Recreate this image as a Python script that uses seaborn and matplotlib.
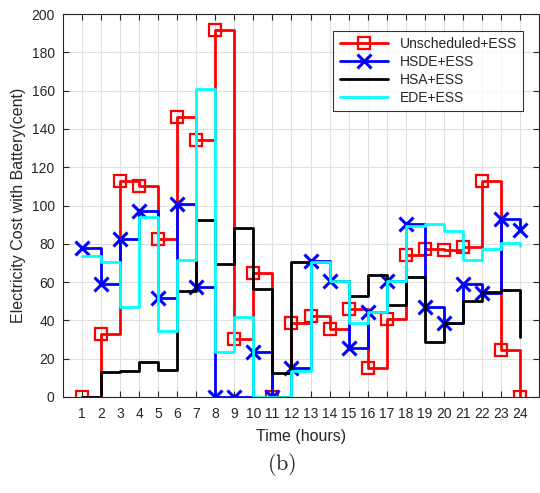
import matplotlib
matplotlib.use('Agg')
import matplotlib.pyplot as plt
import numpy as np
import seaborn as sns

hours = np.arange(1, 25)
unscheduled = [0, 32.7, 112.8, 110.3, 82.5, 146.2, 134, 191.8, 30.1, 64.9, 0, 38.5,
               42.3, 35.7, 45.8, 15.3, 40.7, 74.2, 77.1, 76.8, 78.5, 112.8, 24.5, 0]
hsde = [78, 58.8, 82.5, 97.3, 51.9, 100.6, 57.6, 0, 0, 23.3, 0, 15,
        71, 60.6, 25.7, 44.5, 60.7, 90.2, 47.2, 38.5, 58.8, 54.1, 92.9, 87.2]
hsa = [0, 12.9, 13.6, 18.1, 13.9, 55.4, 92.4, 69.3, 88.4, 56.2, 12.4, 70.7,
       70.7, 60.6, 52.7, 63.7, 48, 62.5, 28.5, 38.5, 50.1, 55, 55.9, 31.5]
ede = [73.8, 70.7, 47.2, 93.8, 34.6, 71.3, 160.8, 23.7, 41.9, 0, 0, 13.6,
       70.7, 60.6, 38.8, 44.2, 60.6, 89.5, 90.6, 86.7, 71.5, 77.3, 80.2, 79]

sns.set_style('ticks')
plt.rcParams['font.family'] = ['Liberation Sans', 'DejaVu Sans']
plt.rcParams['mathtext.fontset'] = 'cm'

fig = plt.figure(figsize=(5.4, 4.93), dpi=100)
ax = fig.add_axes([63 / 540, 1 - 397 / 493, 476 / 540, 383 / 493])

lw = 2
sns.lineplot(x=hours, y=unscheduled, ax=ax, drawstyle='steps-post', color='red', lw=lw,
             marker='s', markersize=8, markerfacecolor='none', markeredgecolor='red',
             markeredgewidth=1.6, label='Unscheduled+ESS')
sns.lineplot(x=hours, y=hsde, ax=ax, drawstyle='steps-post', color='blue', lw=lw,
             marker='x', markersize=9.5, markeredgecolor='blue', markeredgewidth=2.2,
             label='HSDE+ESS')
sns.lineplot(x=hours, y=hsa, ax=ax, drawstyle='steps-post', color='black', lw=lw,
             label='HSA+ESS')
sns.lineplot(x=hours, y=ede, ax=ax, drawstyle='steps-post', color='cyan', lw=lw,
             label='EDE+ESS')

ax.set_xlim(0, 25)
ax.set_ylim(0, 200)
ax.set_xticks(hours)
ax.set_yticks(np.arange(0, 201, 20))
ax.grid(True, color='#e0e0e0', lw=0.8)
ax.set_axisbelow(True)
ax.tick_params(direction='in', top=True, right=True, labelsize=10, length=4,
               colors='#262626', labelcolor='#262626')
ax.tick_params(axis='x', pad=7)
ax.tick_params(axis='y', pad=6)
for s in ax.spines.values():
    s.set_color('#262626')
    s.set_linewidth(0.8)

ax.set_xlabel('Time (hours)', fontsize=11.5, color='#262626', labelpad=6)
ax.set_ylabel('Electricity Cost with Battery(cent)', fontsize=11.5, color='#262626')

leg = ax.legend(loc='upper right', bbox_to_anchor=(0.966, 0.956), borderaxespad=0,
                fontsize=10, frameon=True, fancybox=False, edgecolor='black',
                handlelength=3.5, borderpad=0.45, labelspacing=0.28)
leg.get_frame().set_linewidth(0.8)

fig.text(282 / 540, 1 - 465 / 493, r'$\mathrm{(b)}$', ha='center', va='center', fontsize=16)

fig.savefig('out.png', dpi=100)
